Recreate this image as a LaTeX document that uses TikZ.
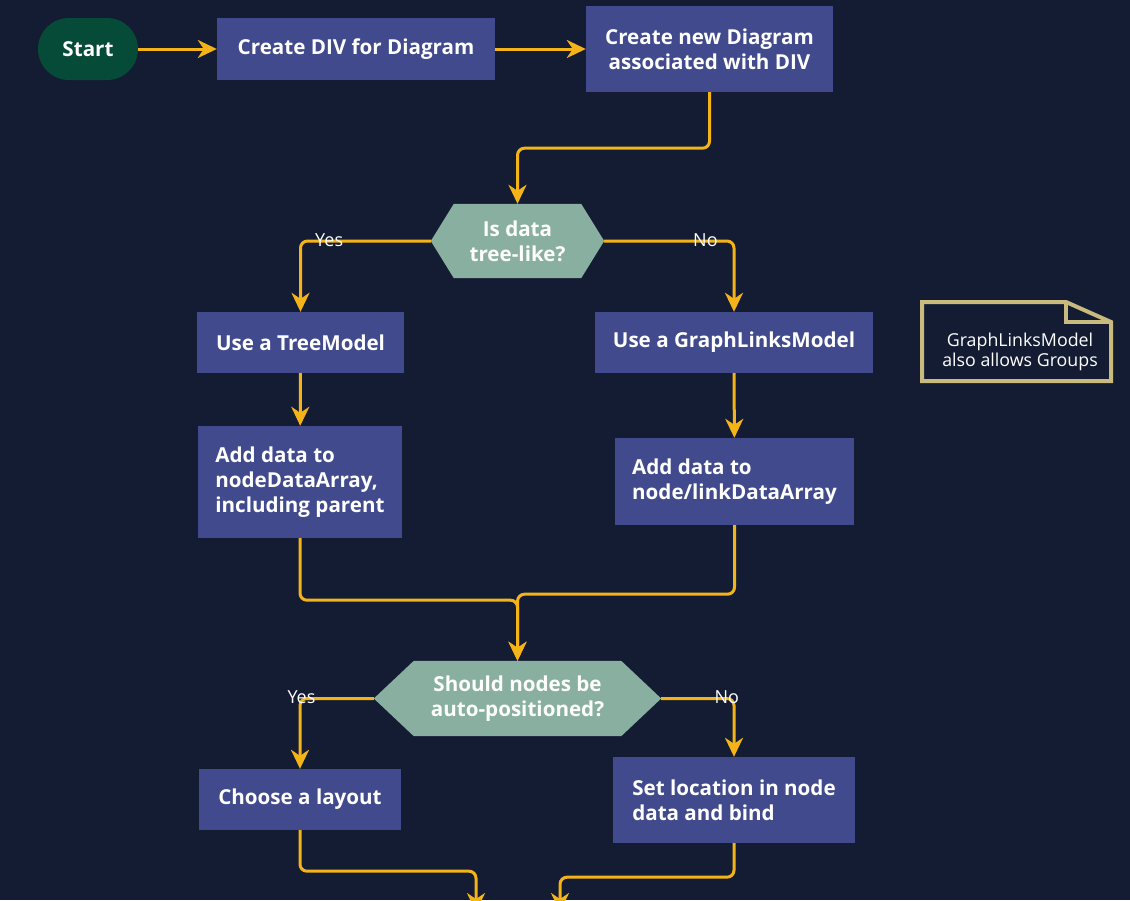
\documentclass[tikz,border=0pt]{standalone}
\usepackage{fontspec}
\setmainfont{Open Sans}
\newcommand{\sbfont}{\bfseries}
\usetikzlibrary{arrows.meta}
\pgfdeclarelayer{background}
\pgfsetlayers{background,main}
\definecolor{bgc}{HTML}{141C33}
\definecolor{boxc}{HTML}{414A8C}
\definecolor{startc}{HTML}{064B37}
\definecolor{hexc}{HTML}{88AFA0}
\definecolor{arrc}{HTML}{F5B31A}
\definecolor{notec}{HTML}{C9BB7E}
\begin{document}
\begin{tikzpicture}[x=1pt,y=-1pt,
  box/.style={fill=boxc, text=white, font=\sbfont\fontsize{20.6}{25}\selectfont, align=center, inner sep=0pt},
  startn/.style={fill=startc, text=white, font=\sbfont\fontsize{20.6}{25}\selectfont, rounded corners=31pt, inner sep=0pt},
  hexn/.style={text=white, font=\sbfont\fontsize{20.6}{25}\selectfont, align=center, inner sep=0pt},
  arr/.style={draw=arrc, line width=3pt, rounded corners=7pt, -{Stealth[length=19pt,width=18pt,inset=6pt]}},
  lab/.style={text=white, font=\fontsize{18}{20}\selectfont, inner sep=0pt},
  notetext/.style={text=white, font=\fontsize{17.8}{20}\selectfont, align=center, inner sep=0pt}
]
\useasboundingbox (0,0) rectangle (1130,900);

\node[startn, minimum width=100pt, minimum height=62pt] (start) at (88,49) {Start};
\node[box, minimum width=278pt, minimum height=62pt] (div) at (356,49) {Create DIV for Diagram};
\node[box, minimum width=247pt, minimum height=86pt] (diag) at (709.5,49) {Create new Diagram\\associated with DIV};
\node[hexn, minimum width=173pt, minimum height=74pt] (q1) at (517.5,241) {Is data\\tree-like?};
\node[box, minimum width=207pt, minimum height=61pt] (tree) at (300.5,342.5) {Use a TreeModel};
\node[box, minimum width=278pt, minimum height=61pt] (graph) at (734,342.5) {Use a GraphLinksModel};
\node[box, align=left, minimum width=204pt, minimum height=112pt] (tdata) at (300,482) {Add data to\\nodeDataArray,\\including parent};
\node[box, align=left, minimum width=239pt, minimum height=87pt] (gdata) at (734.5,481.5) {Add data to\\node/linkDataArray};
\node[hexn, minimum width=287pt, minimum height=75pt] (q2) at (517.5,698.5) {Should nodes be\\auto-positioned?};
\node[box, minimum width=202pt, minimum height=61pt] (layout) at (300,799.5) {Choose a layout};
\node[box, align=left, minimum width=242pt, minimum height=86pt] (loc) at (734,800) {Set location in node\\data and bind};

\begin{pgfonlayer}{background}
\fill[bgc] (0,0) rectangle (1130,900);
\fill[hexc] (q1.west) -- ([xshift=23pt]q1.north west) -- ([xshift=-23pt]q1.north east) -- (q1.east)
  -- ([xshift=-23pt]q1.south east) -- ([xshift=23pt]q1.south west) -- cycle;
\fill[hexc] (q2.west) -- ([xshift=40pt]q2.north west) -- ([xshift=-40pt]q2.north east) -- (q2.east)
  -- ([xshift=-40pt]q2.south east) -- ([xshift=40pt]q2.south west) -- cycle;
\end{pgfonlayer}

% note
\draw[notec, line width=4pt, line join=miter] (922,302) -- (1066,302) -- (1111,322) -- (1111,381) -- (922,381) -- cycle;
\draw[notec, line width=4pt] (1066,302) -- (1066,322) -- (1111,322);
\node[notetext] (note) at (1020,352) {GraphLinksModel\\also allows Groups};

% connectors
\coordinate (end1) at (476,912);
\coordinate (end2) at (560,912);
\draw[arr] (start) -- (div);
\draw[arr] (div) -- (diag);
\draw[arr] (diag.south) -- ++(0,56) -| (q1.north);
\draw[arr] (q1.west) -| (tree.north) node[lab, pos=0.39, yshift=1pt] {Yes};
\draw[arr] (q1.east) -| (graph.north) node[lab, pos=0.39, yshift=1pt] {No};
\draw[arr] (tree) -- (tdata);
\draw[arr] (graph) -- (gdata);
\draw[arr] (tdata.south) -- ++(0,62) -| (q2.north);
\draw[arr] (gdata.south) -- ++(0,69) -| (q2.north);
\draw[arr] (q2.west) -| (layout.north) node[lab, pos=0.49, yshift=1pt] {Yes};
\draw[arr] (q2.east) -| (loc.north) node[lab, pos=0.45, yshift=1pt] {No};
\draw[arr] (layout.south) -- ++(0,41) -| (end1);
\draw[arr] (loc.south) -- ++(0,34) -| (end2);
\end{tikzpicture}
\end{document}
